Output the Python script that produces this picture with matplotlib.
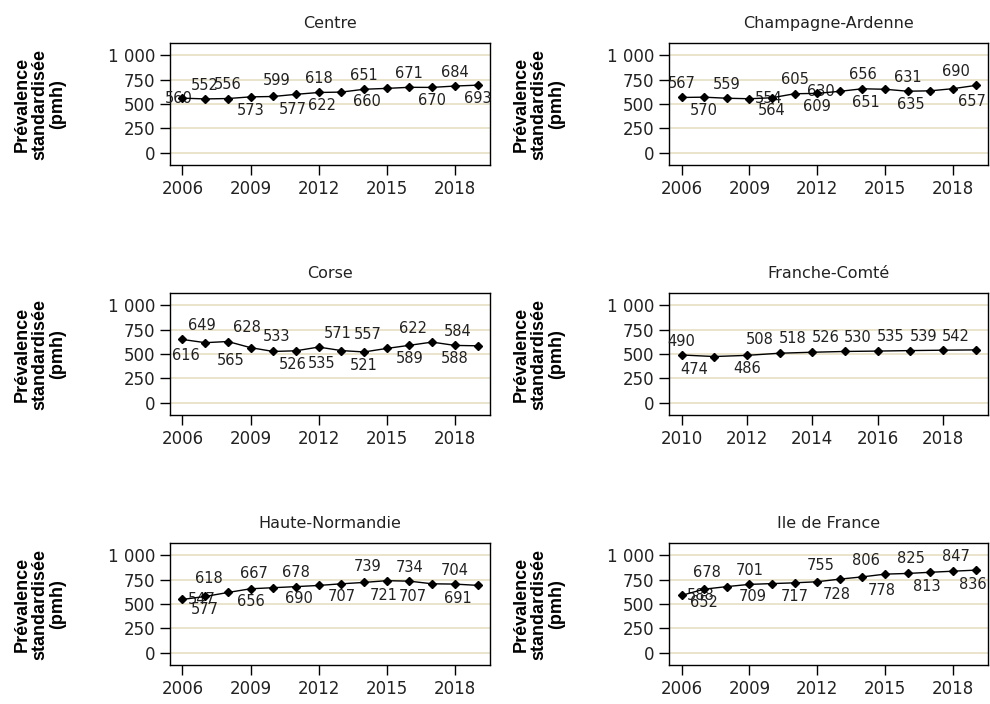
import numpy as np
import matplotlib
matplotlib.use("Agg")
import matplotlib.pyplot as plt

## prevalence standardisee (pmh) per region
years_long = list(range(2006, 2020))
years_fc = list(range(2010, 2020))

centre = [560, 552, 556, 573, 577, 599, 618, 622, 651, 660, 671, 670, 684, 693]
champagne = [567, 570, 559, 554, 564, 605, 609, 630, 656, 651, 631, 635, 657, 690]
corse = [649, 616, 628, 565, 526, 533, 571, 535, 521, 557, 589, 622, 588, 584]
franche = [490, 474, 486, 508, 518, 526, 530, 535, 539, 542]
haute_norm = [547, 577, 618, 656, 667, 678, 690, 707, 721, 739, 734, 707, 704, 691]
idf = [588, 652, 678, 701, 709, 717, 728, 755, 778, 806, 813, 825, 836, 847]

titles = ["Centre", "Champagne-Ardenne", "Corse", "Franche-Comté",
          "Haute-Normandie", "Ile de France"]

y_ticks = [0, 250, 500, 750, 1000]
y_tick_labels = ["0", "250", "500", "750", "1 000"]

panels = [
    (years_long, centre, list(range(2006, 2019, 3))),
    (years_long, champagne, list(range(2006, 2019, 3))),
    (years_long, corse, list(range(2006, 2019, 3))),
    (years_fc, franche, list(range(2010, 2019, 2))),
    (years_long, haute_norm, list(range(2006, 2019, 3))),
    (years_long, idf, list(range(2006, 2019, 3))),
]

# where each value label sits:
# u/d above/below, A/B above/below shifted left, a/b shifted right,
# l/r left/right of the marker, c on the marker
label_pos = [
    "cuudbAuBuBudud",
    "udurdudluBuBbA",
    "aBaBbAaBdAdAdA",
    "uBdAAAAAAA",
    "rdAdAuBdbAuBuB",
    "rdAuBdbAbAbAbA",
]

SH = 14   # sideways shift (points)
UP, DN = 10, -9.5
offs = {"u": ((0, UP), "center"), "d": ((0, DN), "center"),
        "A": ((-SH, UP), "center"), "B": ((-SH, DN), "center"),
        "a": ((SH, UP), "center"), "b": ((SH, DN), "center"),
        "l": ((-4, 0), "right"), "r": ((4, 0), "left"),
        "c": ((-3, 0), "center")}

W, H = 990, 704
fig = plt.figure(figsize=(W / 100, H / 100), dpi=100)

col_lr = [(170, 490), (669, 988)]
row_tb = [(43, 165), (293, 415), (543, 665)]

for i, (xs, ys, xt) in enumerate(panels):
    r, c = divmod(i, 2)
    l, rr = col_lr[c]
    t, b = row_tb[r]
    ax = fig.add_axes([l / W, 1 - b / H, (rr - l) / W, (b - t) / H])

    ax.set_axisbelow(True)
    ax.yaxis.grid(True, color="#e8dfc4", lw=1.2)
    ax.plot(xs, ys, color="black", lw=1.0, marker="D", ms=4.5, zorder=4)
    for x, y, p in zip(xs, ys, label_pos[i]):
        off, ha = offs[p]
        ax.annotate(str(y), (x, y), xytext=off, textcoords="offset points",
                    ha=ha, va="center", fontsize=10.5, color="#222222",
                    zorder=3)

    span = xs[-1] - xs[0]
    pad = span * 12.5 / ((rr - l) - 25)
    ax.set_xlim(xs[0] - pad, xs[-1] + pad)
    ax.set_ylim(-125, 1125)
    ax.set_xticks(xt)
    ax.set_yticks(y_ticks)
    ax.set_yticklabels(y_tick_labels)
    ax.tick_params(direction="out", length=7, width=1, pad=3.5,
                   labelsize=12, labelcolor="#222222")
    for s in ax.spines.values():
        s.set_linewidth(1.0)
        s.set_color("black")
    ax.set_title(titles[i], fontsize=11.5, pad=11, color="#222222")

    fig.text((l - 130) / W, 1 - ((t + b) / 2) / H,
             "Prévalence\nstandardisée\n(pmh)", rotation=90,
             ha="center", va="center", multialignment="center",
             family="Liberation Sans", fontweight="bold", fontsize=13,
             linespacing=1.05)

fig.savefig("out.png", dpi=100)
